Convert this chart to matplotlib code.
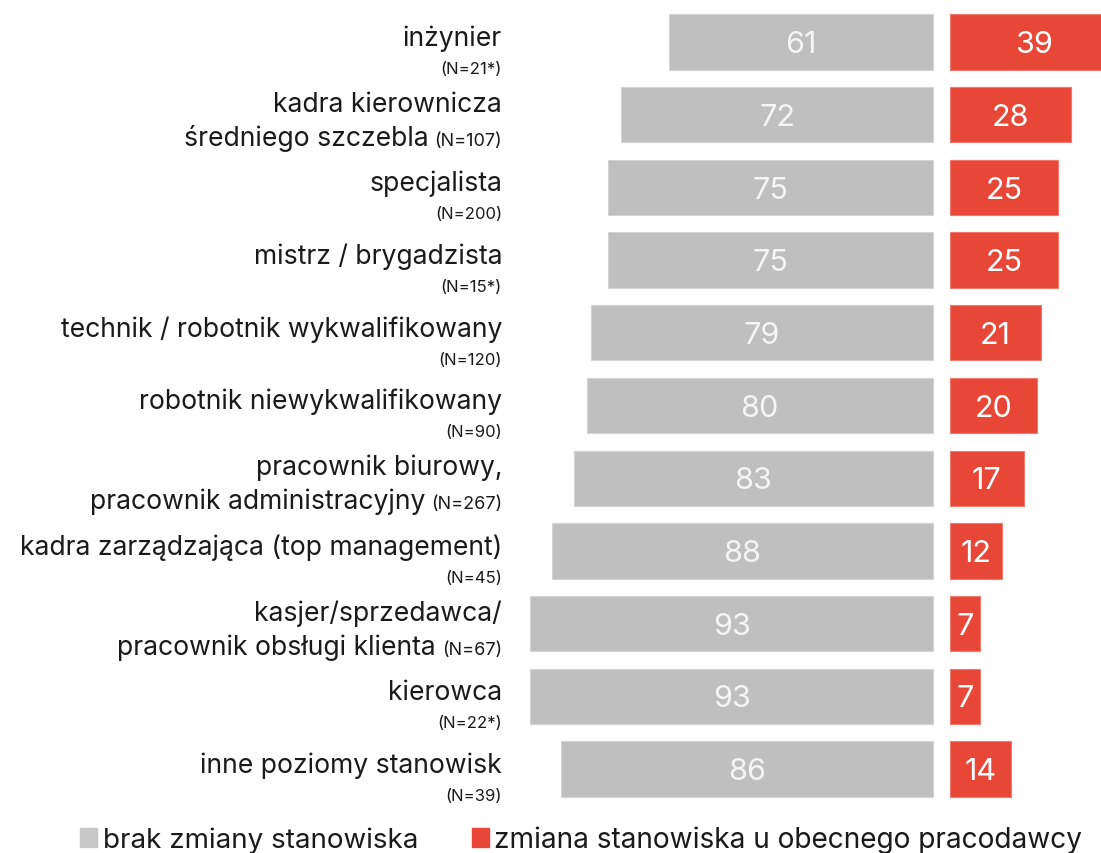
import matplotlib
matplotlib.use("Agg")
import matplotlib.pyplot as plt
from matplotlib.patches import Rectangle

plt.rcParams['font.family'] = ['Inter', 'DejaVu Sans']

# dane
stanowiska = ["inżynier", "kadra kierownicza\nśredniego szczebla", "specjalista",
              "mistrz / brygadzista", "technik / robotnik wykwalifikowany",
              "robotnik niewykwalifikowany", "pracownik biurowy,\npracownik administracyjny",
              "kadra zarządzająca (top management)",
              "kasjer/sprzedawca/\npracownik obsługi klienta", "kierowca",
              "inne poziomy stanowisk"]
liczebnosc = ["(N=21*)", "(N=107)", "(N=200)", "(N=15*)", "(N=120)", "(N=90)",
              "(N=267)", "(N=45)", "(N=67)", "(N=22*)", "(N=39)"]
brak_zmiany = [61, 72, 75, 75, 79, 80, 83, 88, 93, 93, 86]
zmiana = [39, 28, 25, 25, 21, 20, 17, 12, 7, 7, 14]

GRAY = '#bfbfbf'
RED = '#e84637'
TXT = '#1a1a1a'

W, H = 1101, 854
fig = plt.figure(figsize=(W / 100, H / 100), dpi=100)
ax = fig.add_axes([0, 0, 1, 1])

# skala: px na jednostke
ppu = 4.33
x0 = 933          # prawa krawedz szarych slupkow
gap = 17 / ppu    # odstep miedzy szarym i czerwonym
row0, step = 43, 72.7

ax.set_xlim(-x0 / ppu, (W - x0) / ppu)
ax.set_ylim((H - row0) / step, -row0 / step)
ax.axis('off')

y = list(range(len(stanowiska)))
ax.barh(y, [-v for v in brak_zmiany], height=0.76, color=GRAY,
        edgecolor='#d4d4d4', linewidth=0.8)
ax.barh(y, zmiana, left=gap, height=0.76, color=RED,
        edgecolor='#ef7a6e', linewidth=0.8)

for i in y:
    ax.text(-brak_zmiany[i] / 2, i + 0.03, str(brak_zmiany[i]), ha='center',
            va='center', color='#f5f5f5', fontsize=22)
    ax.text(gap + zmiana[i] / 2, i + 0.03, str(zmiana[i]), ha='center',
            va='center', color='white', fontsize=22)

# etykiety
lab_x = (502 - x0) / ppu
FS = 19.1
fig.canvas.draw()
rend = fig.canvas.get_renderer()
for i, s in enumerate(stanowiska):
    lines = s.split('\n')
    if len(lines) == 1:
        ax.annotate(lines[0], (lab_x, i), xytext=(0, -3), textcoords='offset pixels',
                    ha='right', va='baseline', fontsize=FS, color=TXT)
        ax.annotate(liczebnosc[i], (lab_x, i), xytext=(0, -31), textcoords='offset pixels',
                    ha='right', va='baseline', fontsize=12, color=TXT)
    else:
        ax.annotate(lines[0], (lab_x, i), xytext=(0, 4), textcoords='offset pixels',
                    ha='right', va='baseline', fontsize=FS, color=TXT)
        t = ax.annotate(liczebnosc[i], (lab_x, i), xytext=(0, -30), textcoords='offset pixels',
                        ha='right', va='baseline', fontsize=13, color=TXT)
        w = t.get_window_extent(rend).width
        ax.annotate(lines[1], (lab_x, i), xytext=(-w - 6, -30), textcoords='offset pixels',
                    ha='right', va='baseline', fontsize=FS, color=TXT)

# legenda
fig.patches.append(Rectangle((80 / W, 1 - 848 / H), 17 / W, 19 / H, transform=fig.transFigure,
                             color='#c8c8c8'))
fig.text(103 / W, 1 - 848 / H, "brak zmiany stanowiska", fontsize=20, color=TXT,
         va='baseline')
fig.patches.append(Rectangle((472 / W, 1 - 848 / H), 17 / W, 19 / H, transform=fig.transFigure,
                             color=RED))
fig.text(494 / W, 1 - 848 / H, "zmiana stanowiska u obecnego pracodawcy", fontsize=20.2,
         color=TXT, va='baseline')

fig.savefig('out.png', dpi=100)
